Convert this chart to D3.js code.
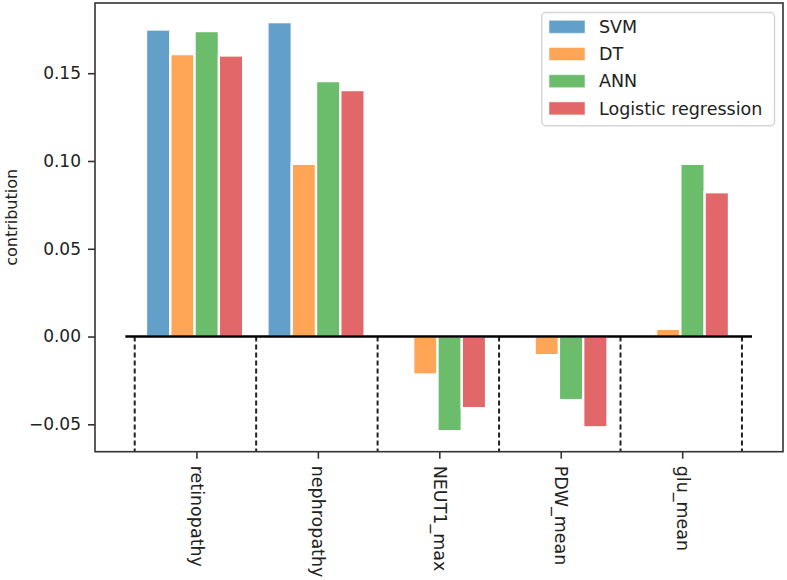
<!DOCTYPE html>
<html>
<head>
<meta charset="utf-8">
<script src="https://cdn.jsdelivr.net/npm/d3@7"></script>
<style>
  html, body { margin: 0; padding: 0; background: #fff; }
  svg { display: block; }
  text { font-family: "DejaVu Sans", sans-serif; fill: #222; }
</style>
</head>
<body>
<svg id="chart" width="787" height="580"></svg>
<script>
// ---- data ----
const categories = ["retinopathy", "nephropathy", "NEUT1_max", "PDW_mean", "glu_mean"];
const seriesNames = ["SVM", "DT", "ANN", "Logistic regression"];
const svmValues = [0.1749, 0.1791, 0, 0, 0];
const dtValues  = [0.1609, 0.0984, -0.0216, -0.0106, 0.0044];
const annValues = [0.1740, 0.1455, -0.0539, -0.0362, 0.0984];
const lrValues  = [0.1601, 0.1404, -0.0408, -0.0517, 0.0822];
const yTickValues = [-0.05, 0.00, 0.05, 0.10, 0.15];
const seriesColors = ["#1f77b4", "#ff7f0e", "#2ca02c", "#d62728"];

const seriesValues = [svmValues, dtValues, annValues, lrValues];

// ---- layout ----
const svg = d3.select("#chart");
const W = 787, H = 580;
const plot = { left: 95, right: 783, top: 3, bottom: 451.7 };

const x = d3.scaleLinear().domain([-0.82, 4.845]).range([plot.left, plot.right]);
const y = d3.scaleLinear().domain([-0.0656, 0.1900]).range([plot.bottom, plot.top]);

const barW = 0.2;
const tickOffset = 0.015;
const dashOffset = 0.007;

svg.append("rect").attr("width", W).attr("height", H).attr("fill", "#fff");

// bars
const bars = [];
categories.forEach((c, i) => {
  seriesValues.forEach((vals, j) => {
    bars.push({ i, j, v: vals[i] });
  });
});
svg.append("g").selectAll("rect").data(bars).join("rect")
  .attr("x", d => x(d.i + (d.j - 2) * barW))
  .attr("width", d => x(barW) - x(0))
  .attr("y", d => y(Math.max(0, d.v)))
  .attr("height", d => Math.abs(y(d.v) - y(0)))
  .attr("fill", d => seriesColors[d.j])
  .attr("fill-opacity", 0.7)
  .attr("stroke", "#fff")
  .attr("stroke-width", 2.3);

// dashed separators
const seps = d3.range(categories.length + 1).map(k => k - 0.5 + dashOffset);
svg.append("g").selectAll("line").data(seps).join("line")
  .attr("x1", d => x(d)).attr("x2", d => x(d))
  .attr("y1", y(0)).attr("y2", plot.bottom)
  .attr("stroke", "#222").attr("stroke-width", 2)
  .attr("stroke-dasharray", "5,3");

// zero line
svg.append("line")
  .attr("x1", x(-0.57)).attr("x2", x(4.59))
  .attr("y1", y(0)).attr("y2", y(0))
  .attr("stroke", "#000").attr("stroke-width", 2.4);

// frame
svg.append("rect")
  .attr("x", plot.left).attr("y", plot.top)
  .attr("width", plot.right - plot.left).attr("height", plot.bottom - plot.top)
  .attr("fill", "none").attr("stroke", "#333").attr("stroke-width", 1.6);

// y axis
const yAxis = d3.axisLeft(y).tickValues(yTickValues).tickSize(7).tickPadding(7)
  .tickFormat(d => d3.format(".2f")(d).replace("-", "\u2212"));
const gy = svg.append("g").attr("transform", `translate(${plot.left},0)`).call(yAxis);
gy.select(".domain").remove();
gy.selectAll(".tick line").attr("stroke", "#333").attr("stroke-width", 1.6);
gy.selectAll(".tick text").style("font-size", "17px").attr("fill", "#222");

// x axis
const xAxis = d3.axisBottom(x).tickValues(d3.range(categories.length).map(i => i + tickOffset))
  .tickSize(7).tickFormat((d, i) => categories[i]);
const gx = svg.append("g").attr("transform", `translate(0,${plot.bottom})`).call(xAxis);
gx.select(".domain").remove();
gx.selectAll(".tick line").attr("stroke", "#333").attr("stroke-width", 1.6);
gx.selectAll(".tick text")
  .style("font-size", "17.5px").attr("fill", "#222")
  .attr("text-anchor", "start")
  .attr("x", 0).attr("y", 0).attr("dy", "0.35em")
  .attr("transform", "translate(0,14) rotate(90)");

// y label
svg.append("text")
  .attr("transform", `translate(17,${(plot.top + plot.bottom) / 2 - 10}) rotate(-90)`)
  .attr("text-anchor", "middle")
  .style("font-size", "16px")
  .text("contribution");

// legend
const lg = svg.append("g");
lg.append("rect")
  .attr("x", 541.7).attr("y", 12.5).attr("width", 232.8).attr("height", 113.2)
  .attr("rx", 4).attr("fill", "#fff").attr("fill-opacity", 0.8)
  .attr("stroke", "#d6d6d6").attr("stroke-width", 1.5);
const items = lg.selectAll("g.item").data(seriesNames).join("g")
  .attr("class", "item")
  .attr("transform", (d, j) => `translate(0,${26.8 + j * 27.2})`);
items.append("rect")
  .attr("x", 549).attr("y", -6.5).attr("width", 36).attr("height", 13)
  .attr("fill", (d, j) => seriesColors[j]).attr("fill-opacity", 0.7)
  .attr("stroke", "#fff").attr("stroke-opacity", 0.5).attr("stroke-width", 1);
items.append("text")
  .attr("x", 599).attr("y", 0).attr("dy", "0.35em")
  .style("font-size", "17.5px")
  .text(d => d);
</script>
</body>
</html>
